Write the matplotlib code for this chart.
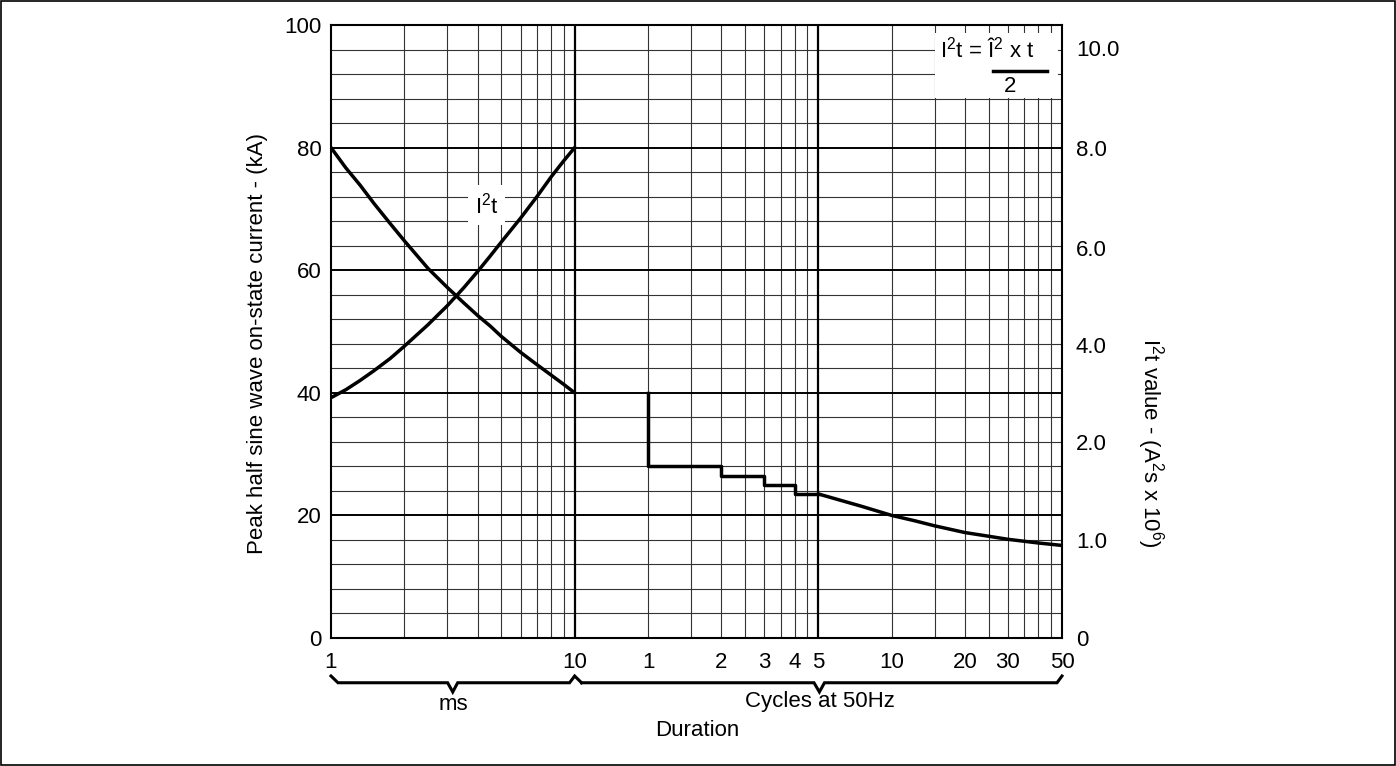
import numpy as np
import matplotlib.pyplot as plt
import matplotlib.transforms as mtransforms
from matplotlib.patches import Rectangle

plt.rcParams['font.family'] = ['Liberation Sans', 'DejaVu Sans']
plt.rcParams['mathtext.default'] = 'regular'
plt.rcParams['font.size'] = 16

# peak current, ms region (kA)
t_ms = [1, 1.15, 1.315, 1.5, 1.75, 2, 2.5, 3, 3.5, 4, 4.5, 5, 6, 7, 8, 9, 10]
peak_ms = [80, 76.7, 73.9, 70.9, 67.6, 64.8, 60.3, 57.2, 54.7, 52.6, 50.9,
           49.2, 46.6, 44.6, 42.9, 41.4, 40]

# I2t curve, drawn on the kA scale (right axis ticks mapped below)
i2t_ms = [39.2, 40.5, 42.0, 43.6, 45.6, 47.6, 51.1, 54.2, 57.1, 59.8, 62.3,
          64.6, 68.5, 72.0, 75.2, 77.8, 80]

# peak current, cycles region: steps (ms) then smooth part
step_t = [20, 20, 40, 60, 80, 100]
step_i = [40, 28.1, 26.4, 24.9, 23.5, 23.5]
tail_t = [100, 120, 150, 200, 250, 300, 400, 500, 600, 800, 1000]
tail_i = [23.5, 22.6, 21.5, 20.0, 19.1, 18.3, 17.2, 16.6, 16.1, 15.5, 15.1]

# right axis: I2t value labels at kA-scale positions
right_pos = [0, 16, 32, 47.8, 63.6, 80, 96.2]
right_lab = ['0', '1.0', '2.0', '4.0', '6.0', '8.0', '10.0']

xtick_pos = [1, 10, 20, 40, 60, 80, 100, 200, 400, 600, 1000]
xtick_lab = ['1', '10', '1', '2', '3', '4', '5', '10', '20', '30', '50']

fig = plt.figure(figsize=(13.96, 7.66), dpi=100)
ax = fig.add_axes([331/1396, 1-638/766, 731/1396, 613/766])
ax.set_xscale('log')
ax.set_xlim(1, 1000)
ax.set_ylim(0, 100)

# grid
for dec in [1, 10, 100]:
    for k in range(2, 10):
        ax.axvline(dec*k, color='#333333', lw=0.8, zorder=1)
for yv in range(4, 100, 4):
    if yv % 20:
        ax.axhline(yv, color='#333333', lw=0.8, zorder=1)
for yv in [20, 40, 60, 80]:
    ax.axhline(yv, color='black', lw=1.4, zorder=1)
for xv in [10, 100]:
    ax.axvline(xv, color='black', lw=1.6, zorder=1)

for s in ax.spines.values():
    s.set_linewidth(1.5)

ax.plot(t_ms, peak_ms, color='black', lw=2.5, zorder=3)
ax.plot(t_ms, i2t_ms, color='black', lw=2.5, zorder=3)
ax.plot(step_t, step_i, color='black', lw=2.5, drawstyle='steps-post', zorder=3)
ax.plot(tail_t, tail_i, color='black', lw=2.5, zorder=3)

ax.text(4.35, 70.6, 'I$^2$t', ha='center', va='center', fontsize=16,
        bbox=dict(facecolor='white', edgecolor='none', pad=5), zorder=4)

# formula box
ax.add_patch(Rectangle((0.826, 0.881), 0.169, 0.106, transform=ax.transAxes,
                       facecolor='white', edgecolor='none', zorder=4))
ax.text(0.898, 0.959, 'I$^2$t = Î$^2$ x t', transform=ax.transAxes,
        ha='center', va='center', fontsize=16, zorder=5)
ax.plot([0.906, 0.979], [0.925, 0.925], transform=ax.transAxes,
        color='black', lw=2.5, zorder=5)
ax.text(0.929, 0.900, '2', transform=ax.transAxes, ha='center', va='center',
        fontsize=16, zorder=5)

ax.set_yticks([0, 20, 40, 60, 80, 100])
ax.set_xticks(xtick_pos)
ax.set_xticklabels(xtick_lab)
ax.xaxis.set_minor_locator(plt.NullLocator())
ax.tick_params(axis='both', length=0, labelsize=16)
ax.tick_params(axis='x', pad=10)
ax.tick_params(axis='y', pad=7)

ax2 = ax.twinx()
ax2.set_ylim(0, 100)
ax2.set_yticks(right_pos)
ax2.set_yticklabels(right_lab)
ax2.tick_params(axis='y', length=0, labelsize=16, pad=10)
for s in ax2.spines.values():
    s.set_visible(False)

fig.text(258/1396, 1-344/766, 'Peak half sine wave on-state current - (kA)',
         rotation=90, ha='center', va='center', fontsize=16)
fig.text(1150/1396, 1-443/766, 'I$^2$t value - (A$^2$s x 10$^6$)', rotation=270,
         ha='center', va='center', fontsize=16)

# braces under the axis
trans = mtransforms.blended_transform_factory(ax.transData, ax.transAxes)
yb = -0.073
yh = -0.062
yt = -0.088
ax.plot([1.0, 1.068, 3.01, 3.16, 3.31, 9.53, 10, 10.67],
        [yh, yb, yb, yt, yb, yb, yh, yb],
        transform=trans, color='black', lw=2.2, clip_on=False,
        solid_joinstyle='miter')
ax.plot([10.67, 96, 101, 106, 954, 1000], [yb, yb, yt, yb, yb, yh],
        transform=trans, color='black', lw=2.2, clip_on=False,
        solid_joinstyle='miter')

fig.text(453/1396, 1-705/766, 'ms', ha='center', va='center', fontsize=16)
fig.text(820/1396, 1-702/766, 'Cycles at 50Hz', ha='center', va='center', fontsize=16)
fig.text(697/1396, 1-731/766, 'Duration', ha='center', va='center', fontsize=16)

fig.add_artist(Rectangle((1/1396, 1/766), 1-2/1396, 1-2/766, transform=fig.transFigure,
                         facecolor='none', edgecolor='black', lw=1.2))

fig.savefig('out.png', dpi=100)
